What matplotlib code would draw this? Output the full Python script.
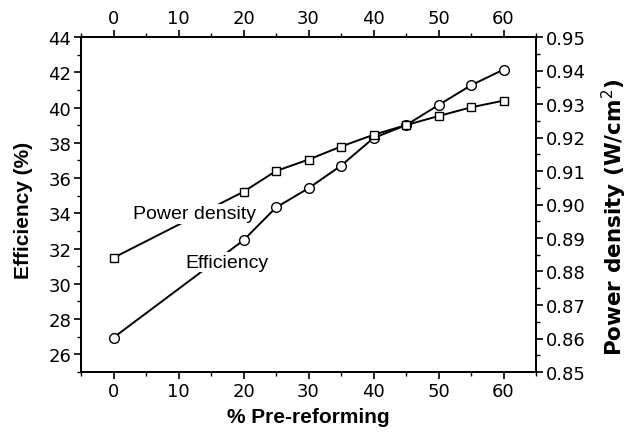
import matplotlib
matplotlib.use("Agg")
import matplotlib.pyplot as plt
from matplotlib.ticker import MultipleLocator, FormatStrFormatter

pre_reforming = [0, 20, 25, 30, 35, 40, 45, 50, 55, 60]
efficiency = [26.95, 32.47, 34.33, 35.42, 36.70, 38.27, 39.0, 40.14, 41.26, 42.15]
power_density = [0.8841, 0.9038, 0.9100, 0.9134, 0.9173, 0.9208, 0.9237, 0.9264, 0.9290, 0.9310]

fig = plt.figure(figsize=(6.33, 4.35), dpi=100)
ax = fig.add_axes([81/633, 1-373/435, (536-81)/633, (373-38)/435])
ax2 = ax.twinx()
ax3 = ax.twiny()

tick_family = "DejaVu Sans"
tick_size = 13

ax.plot(pre_reforming, efficiency, color="black", lw=1.4, marker="o", ms=7,
        mfc="white", mec="black", mew=1.0, zorder=3)
ax2.plot(pre_reforming, power_density, color="black", lw=1.4, marker="s", ms=6,
         mfc="white", mec="black", mew=1.0, zorder=3)

ax.set_xlim(-5, 65)
ax3.set_xlim(-5, 65)
ax.set_ylim(25, 44)
ax2.set_ylim(0.85, 0.95)

for a in (ax, ax3):
    a.xaxis.set_major_locator(MultipleLocator(10))
    a.xaxis.set_minor_locator(MultipleLocator(5))
ax.yaxis.set_major_locator(MultipleLocator(2))
ax.yaxis.set_minor_locator(MultipleLocator(1))
ax2.yaxis.set_major_locator(MultipleLocator(0.01))
ax2.yaxis.set_minor_locator(MultipleLocator(0.005))
ax2.yaxis.set_major_formatter(FormatStrFormatter("%.2f"))

for a in (ax, ax2, ax3):
    a.tick_params(which="major", direction="out", length=5, width=1.2, pad=2)
    a.tick_params(which="minor", direction="out", length=3, width=1.0)
    for lab in a.get_xticklabels() + a.get_yticklabels():
        lab.set_fontfamily(tick_family)
        lab.set_fontsize(tick_size)
    for s in a.spines.values():
        s.set_linewidth(1.4)

ax.set_xlabel("% Pre-reforming", family="Liberation Sans", size=15,
              weight="bold", labelpad=5)
ax.set_ylabel("Efficiency (%)", family="Liberation Sans", size=15,
              weight="bold", labelpad=11)
ax2.set_ylabel("Power density (W/cm$^2$)", family="DejaVu Sans", size=15.5,
               weight="bold", labelpad=10)
ax.yaxis.label.set_y(0.485)
ax2.yaxis.label.set_y(0.464)

ax2.set_zorder(ax.get_zorder() + 1)
ax2.patch.set_visible(False)

ax2.text(12.4, 0.8972, "Power density", ha="center", va="center",
         fontsize=14, family="Liberation Sans", zorder=10,
         bbox=dict(facecolor="white", edgecolor="none", pad=1))
ax2.text(17.5, 0.8828, "Efficiency", ha="center", va="center",
         fontsize=14, family="Liberation Sans", zorder=10,
         bbox=dict(facecolor="white", edgecolor="none", pad=1))

fig.savefig("out.png", dpi=100)
